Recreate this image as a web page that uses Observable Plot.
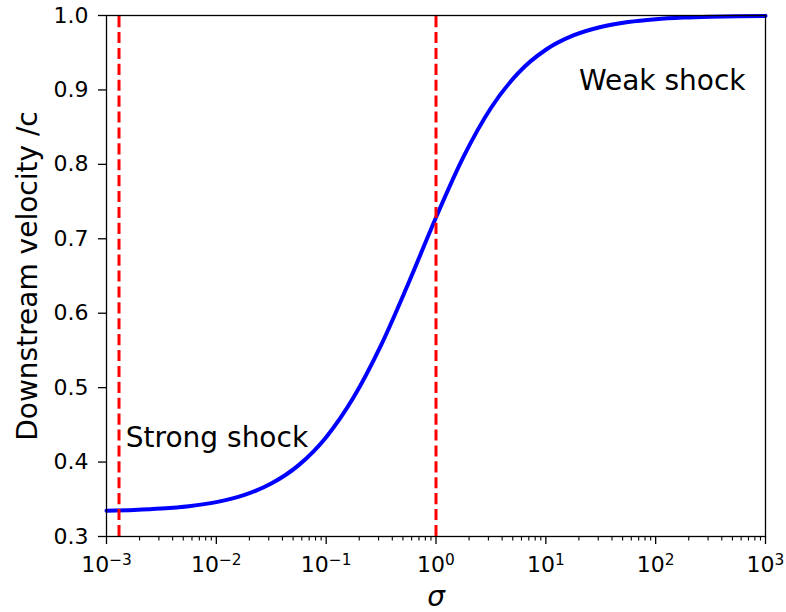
<!DOCTYPE html>
<html><head><meta charset="utf-8">
<script src="https://cdn.jsdelivr.net/npm/d3@7"></script>
<script src="https://cdn.jsdelivr.net/npm/@observablehq/plot@0.6"></script>
<style>html,body{margin:0;padding:0;background:#fff}</style>
</head><body><div id="chart"></div>
<script>
// Magnetization sigma and downstream velocity (units of c)
const sigma = [0.001, 0.001778, 0.003162, 0.005623, 0.01, 0.01778, 0.03162, 0.05623,
  0.1, 0.1778, 0.3162, 0.5623, 1, 1.778, 3.162, 5.623, 10, 17.78, 31.62, 56.23,
  100, 177.8, 316.2, 562.3, 1000];
const velocity = [0.3347, 0.3357, 0.3375, 0.3407, 0.3462, 0.3555, 0.3711, 0.3959,
  0.4335, 0.4870, 0.5571, 0.6406, 0.7287, 0.8100, 0.8757, 0.9230, 0.9540, 0.9732, 0.9846, 0.9912,
  0.9950, 0.9972, 0.9984, 0.9991, 0.9995];

// Vertical dashed markers
const markerSigma = [0.0013, 1];

// Annotations
const annotationLabels = ["Strong shock", "Weak shock"];
const annotationSigma = [0.0015, 20];
const annotationVelocity = [0.42, 0.9];

// Ticks
const xTicks = [1e-3, 1e-2, 1e-1, 1, 10, 100, 1000];
const xTickExponents = ["\u22123", "\u22122", "\u22121", "0", "1", "2", "3"];
const minorMultiples = [2, 3, 4, 5, 6, 7, 8, 9];
const yTicks = [0.3, 0.4, 0.5, 0.6, 0.7, 0.8, 0.9, 1.0];
const yLabel = "Downstream velocity /c";
const xLabel = "\u03c3";

const minorTicks = xTicks.slice(0, -1).flatMap(d => minorMultiples.map(m => d * m));
const curveData = sigma.map((s, i) => ({s, v: velocity[i]}));
const annotations = annotationLabels.map((label, i) => ({label, s: annotationSigma[i], v: annotationVelocity[i]}));

const chart = Plot.plot({
  width: 786, height: 612,
  marginLeft: 106, marginRight: 21, marginTop: 15, marginBottom: 76,
  style: {fontFamily: "DejaVu Sans", background: "white", color: "black", overflow: "visible"},
  x: {type: "log", domain: [1e-3, 1e3]},
  y: {domain: [0.3, 1.0]},
  marks: [
    Plot.line(curveData, {x: "s", y: "v", stroke: "#0000ff", strokeWidth: 4, curve: "monotone-x"}),
    Plot.ruleX(markerSigma, {x: d => d, y1: 0.3, y2: 1.0, stroke: "#ff0000", strokeWidth: 3, strokeDasharray: "11.1,4.8"}),
    Plot.text(annotations, {x: "s", y: "v", text: "label", textAnchor: "start", lineAnchor: "bottom", fontSize: 28, fill: "black"}),
    Plot.frame({stroke: "black", strokeWidth: 1.3}),
    Plot.axisX({ticks: minorTicks, tickSize: 4.5, text: null, label: null, strokeWidth: 1.1}),
    Plot.axisX({ticks: xTicks, tickSize: 8, tickPadding: 12, label: null, strokeWidth: 1.3, fontSize: 22,
      tickFormat: d => "10^" + xTickExponents[xTicks.findIndex(t => Math.abs(Math.log10(t) - Math.log10(d)) < 1e-6)]}),
    Plot.axisY({ticks: yTicks, tickSize: 8, tickPadding: 10, label: null, strokeWidth: 1.3, fontSize: 22,
      tickFormat: d => d.toFixed(1)}),
    Plot.text([yLabel], {frameAnchor: "left", rotate: -90, dx: -69.5, textAnchor: "middle", lineAnchor: "bottom", fontSize: 28, fill: "black"}),
    Plot.text([xLabel], {frameAnchor: "bottom", dy: 69, textAnchor: "middle", lineAnchor: "bottom", fontSize: 28, fontStyle: "italic", fill: "black"})
  ]
});

d3.select(chart).selectAll('g[aria-label="x-axis tick label"] text').each(function () {
  const parts = this.textContent.split("^");
  const sel = d3.select(this);
  sel.text(null);
  sel.append("tspan").text(parts[0]);
  sel.append("tspan").attr("dy", "-0.45em").attr("font-size", "15.4px").text(parts[1]);
});

document.getElementById("chart").appendChild(chart);
</script>
</body></html>
